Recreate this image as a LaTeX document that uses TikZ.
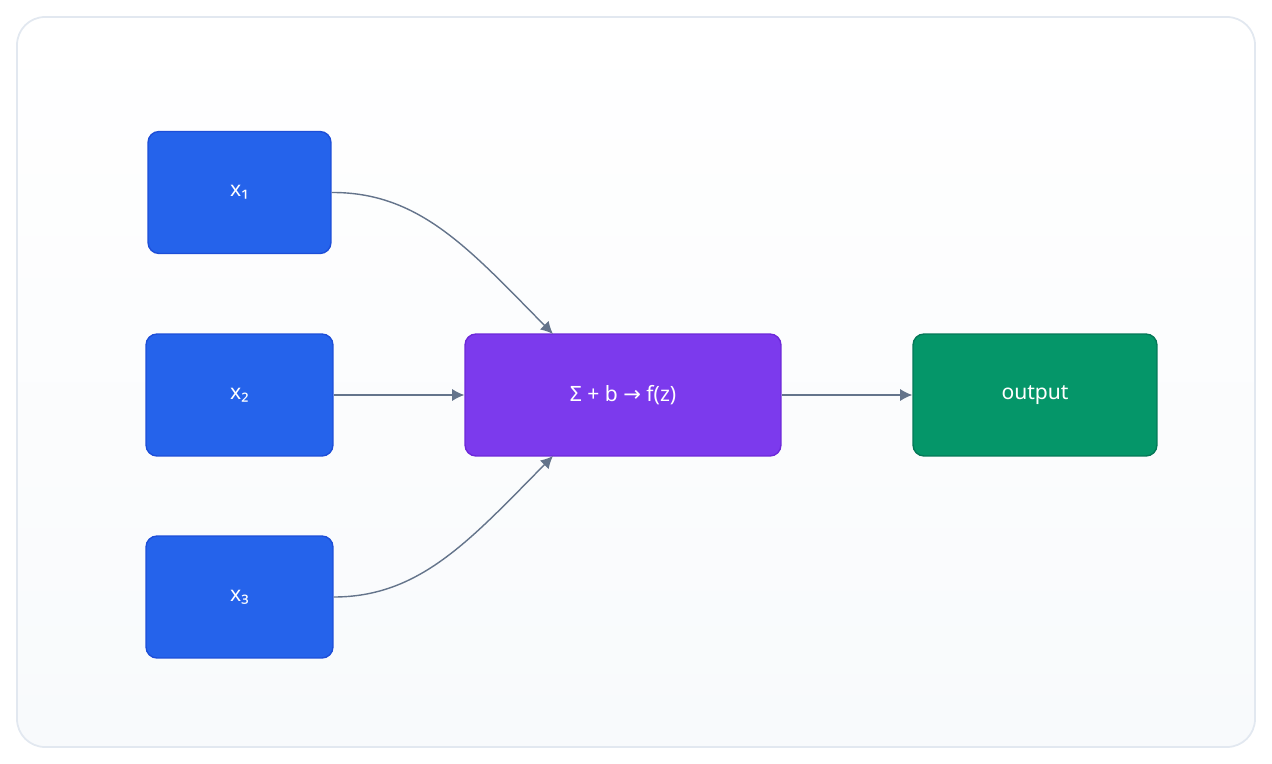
\documentclass[tikz,border=0pt]{standalone}
\usepackage{fontspec}
\setmainfont{Noto Sans}
\newfontfamily\symfont{DejaVu Sans}
\usetikzlibrary{arrows.meta,positioning}
\definecolor{inblue}{HTML}{2563EB}
\definecolor{inblueline}{HTML}{1D4ED8}
\definecolor{sumviolet}{HTML}{7C3AED}
\definecolor{sumvioletline}{HTML}{6D28D9}
\definecolor{outgreen}{HTML}{059669}
\definecolor{outgreenline}{HTML}{047857}
\definecolor{edgegray}{HTML}{64748B}
\definecolor{framegray}{HTML}{E2E8F0}
\definecolor{bgbottom}{HTML}{F8FAFC}
\tikzset{
  box/.style={rounded corners=0.22cm, line width=0.8pt, text=white,
    font=\fontsize{12}{14}\selectfont, minimum height=2.44cm, inner sep=0pt},
  inbox/.style={box, fill=inblue, draw=inblueline},
  link/.style={draw=edgegray, line width=0.8pt, -{Latex[length=7pt,width=7pt]}}
}
\begin{document}
\begin{tikzpicture}[x=0.02cm,y=-0.02cm]
        % cornice
        \useasboundingbox (0,0) rectangle (1272,764);
        \shade[top color=white, bottom color=bgbottom, rounded corners=0.56cm]
            (17,17) rectangle (1255,747);
        \draw[framegray, line width=1pt, rounded corners=0.56cm] (17,17) rectangle (1255,747);

        % ingressi
        \node[inbox, minimum width=3.66cm] (x1) at (239.5,192.5) {x₁};
        \node[inbox, minimum width=3.74cm] (x2) at (239.5,395) {x₂};
        \node[inbox, minimum width=3.74cm] (x3) at (239.5,597) {x₃};

        % somma e uscita
        \node[box, fill=sumviolet, draw=sumvioletline, minimum width=6.32cm] (sum) at (623,395)
            {Σ + b {\symfont →} f(z)};
        \node[box, fill=outgreen, draw=outgreenline, minimum width=4.88cm] (out) at (1035,395) {output};

        % collegamenti
        \coordinate (sumtop) at (553,334);
        \coordinate (sumbot) at (553,456);
        \draw[link] (x1.east) .. controls (420,192) and (470,250) .. (sumtop);
        \draw[link] (x2) -- (sum);
        \draw[link] (x3.east) .. controls (420,597) and (470,540) .. (sumbot);
        \draw[link] (sum) -- (out);
\end{tikzpicture}
\end{document}
